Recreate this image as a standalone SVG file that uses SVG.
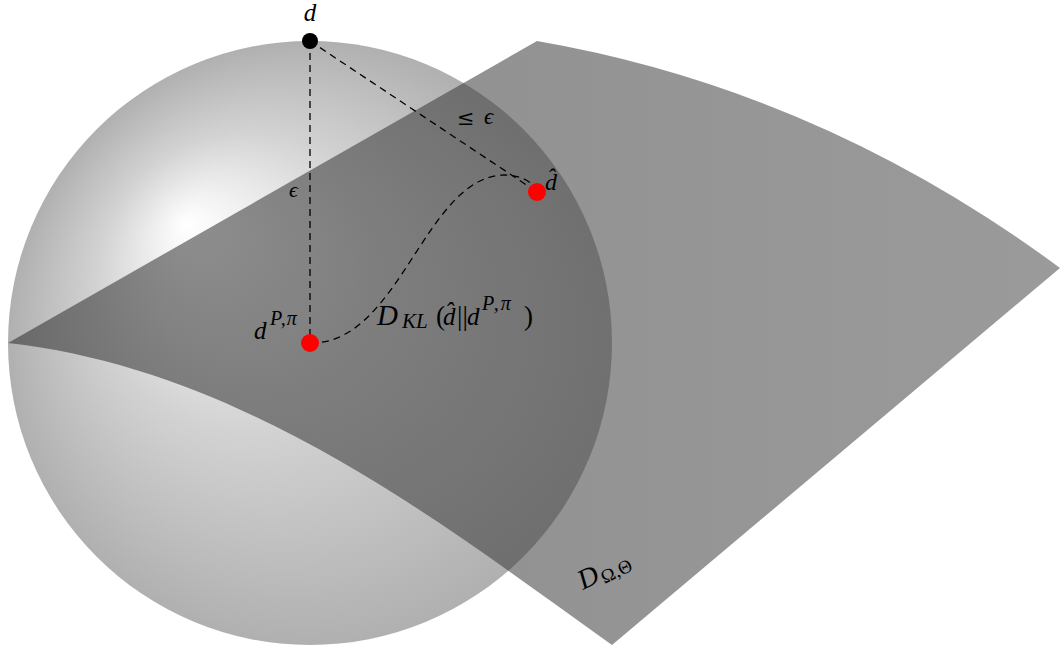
<svg xmlns="http://www.w3.org/2000/svg" width="1060" height="651" viewBox="0 0 1060 651">
<style>
.lbl{font-family:"Liberation Serif","DejaVu Serif",serif;font-style:italic;fill:#000}
.up{font-style:normal}
.sym{font-family:"DejaVu Serif",serif;font-style:normal;fill:#000}
.dash{fill:none;stroke:#000;stroke-width:1.3;stroke-dasharray:7,5}
</style>
<defs>
<radialGradient id="ball" cx="310" cy="343" r="302" fx="185" fy="222" gradientUnits="userSpaceOnUse">
<stop offset="0" stop-color="#ffffff"/>
<stop offset="0.5" stop-color="#d2d2d2"/>
<stop offset="1" stop-color="#b0b0b0"/>
</radialGradient>
<linearGradient id="surf" x1="8" y1="0" x2="1060" y2="0" gradientUnits="userSpaceOnUse">
<stop offset="0" stop-color="#2c2c2c"/>
<stop offset="1" stop-color="#484848"/>
</linearGradient>
</defs>
<rect width="1060" height="651" fill="#fff"/>
<g id="sphere"><circle cx="310" cy="343" r="302" fill="url(#ball)"/></g>
<g id="surface"><path d="M8,343 L537,41 Q820,90 1060,268 L612,645 C450,530 250,370 8,343 Z" fill="url(#surf)" fill-opacity="0.55"/></g>
<g id="connectors">
<line class="dash" x1="310" y1="41" x2="310" y2="343"/>
<line class="dash" x1="310" y1="41" x2="537" y2="192"/>
<path class="dash" d="M310,343 C400,345 425,175 505,175 Q528,176 537,190"/>
</g>
<g id="node-d"><circle cx="310" cy="41" r="8" fill="#000"/><text class="lbl" x="310" y="21" font-size="25" text-anchor="middle">d</text></g>
<g id="node-dhat"><circle cx="537" cy="192" r="9" fill="#f00"/><text class="lbl" x="545" y="190" font-size="24">d̂</text></g>
<g id="node-dP"><circle cx="310" cy="343" r="9" fill="#f00"/><text class="lbl" x="254" y="339" font-size="25">d<tspan x="270" y="325" font-size="20" letter-spacing="1">P,π</tspan></text></g>
<g id="labels">
<text class="sym" x="457" y="125" font-size="21">≤</text>
<text class="lbl" x="484" y="124" font-size="23">ϵ</text>
<text class="lbl" x="289" y="197" font-size="22">ϵ</text>
<text class="lbl" y="325" font-size="29"><tspan x="377">D</tspan><tspan x="402" y="328" font-size="21">KL</tspan><tspan class="up" x="436" y="325" font-size="27">(</tspan><tspan x="443" font-size="25">d̂</tspan><tspan class="up" x="457" font-size="27">||</tspan><tspan x="467" font-size="25">d</tspan><tspan x="482" y="310" font-size="20" letter-spacing="2">P,π</tspan><tspan class="up" x="524" y="325" font-size="27">)</tspan></text>
<g transform="translate(583,590) rotate(-26)"><text class="lbl" x="0" y="0" font-size="28">D<tspan class="up" x="22" y="4" font-size="19">Ω,Θ</tspan></text></g>
</g>
</svg>
